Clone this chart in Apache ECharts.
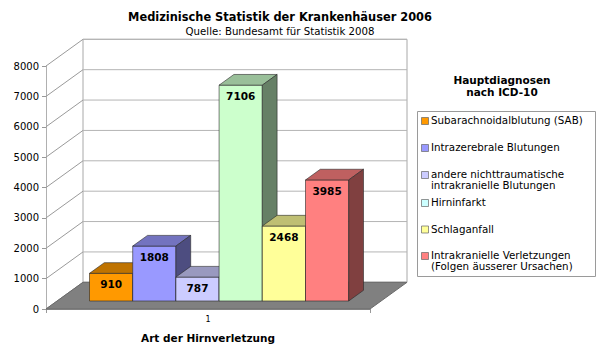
<!DOCTYPE html>
<html>
<head>
<meta charset="utf-8">
<script src="https://cdn.jsdelivr.net/npm/echarts@6/dist/echarts.min.js"></script>
<style>
  html, body { margin: 0; padding: 0; background: #fff; }
  #chart { width: 600px; height: 348px; }
</style>
</head>
<body>
<div id="chart"></div>
<script>
// Hospital statistics 2006: main diagnoses (ICD-10) for brain injuries
const categories = ['1'];
const diagnoses = [
  'Subarachnoidalblutung (SAB)',
  'Intrazerebrale Blutungen',
  'andere nichttraumatische\nintrakranielle Blutungen',
  'Hirninfarkt',
  'Schlaganfall',
  'Intrakranielle Verletzungen\n(Folgen äusserer Ursachen)'
];
const cases = [910, 1808, 787, 7106, 2468, 3985];
const barColors = ['#FF9900', '#9999FF', '#CCCCFF', '#CCFFCC', '#FFFF99', '#FF8080'];
const legendColors = ['#FF9900', '#9999FF', '#CCCCFF', '#CCFFFF', '#FFFF99', '#FF8080'];
const yTicks = [0, 1000, 2000, 3000, 4000, 5000, 6000, 7000, 8000];

const FONT = 'DejaVu Sans';
// oblique depth vector of the 3D box and the slab occupied by the bars
const DEPTH = [37, -26.7];
const BAR_FRONT = 0.3;
const BAR_DEPTH = 0.4;

function shade(hex, k) {
  const n = parseInt(hex.slice(1), 16);
  const r = Math.round(((n >> 16) & 255) * k);
  const g = Math.round(((n >> 8) & 255) * k);
  const b = Math.round((n & 255) * k);
  return 'rgb(' + r + ',' + g + ',' + b + ')';
}

// back wall, side wall, grid lines and floor
function renderFrame(params, api) {
  const base = api.coord([0, 0]);
  const band = api.size([1, 0])[0];
  const L = base[0] - band / 2;
  const R = base[0] + band / 2;
  const dx = DEPTH[0], dy = DEPTH[1];
  const yTop = api.coord([0, yTicks[yTicks.length - 1]])[1];
  const y0 = base[1];
  const children = [];
  children.push({
    type: 'polygon',
    shape: { points: [[L + dx, y0 + dy], [R + dx, y0 + dy], [R + dx, yTop + dy], [L + dx, yTop + dy]] },
    style: { fill: '#ffffff', stroke: '#a8a8a8', lineWidth: 1 }
  });
  yTicks.forEach(function (v) {
    const y = api.coord([0, v])[1];
    children.push({
      type: 'line',
      shape: { x1: L + dx, y1: y + dy, x2: R + dx, y2: y + dy },
      style: { stroke: '#b4b4b4', lineWidth: 1 }
    });
    children.push({
      type: 'line',
      shape: { x1: L, y1: y, x2: L + dx, y2: y + dy },
      style: { stroke: '#9a9a9a', lineWidth: 1 }
    });
  });
  children.push({
    type: 'polygon',
    shape: { points: [[L, y0], [R, y0], [R + dx, y0 + dy], [L + dx, y0 + dy]] },
    style: { fill: '#808080', stroke: '#6a6a6a', lineWidth: 1 }
  });
  return { type: 'group', children: children };
}

// one 3D bar per diagnosis, with its value on the front face
function renderBar(params, api) {
  const i = params.seriesIndex - 1;
  const n = cases.length;
  const base = api.coord([0, 0]);
  const topPt = api.coord([0, api.value(1)]);
  const band = api.size([1, 0])[0];
  const groupW = band * 0.8;
  const w = groupW / n;
  const fx = DEPTH[0] * BAR_FRONT, fy = DEPTH[1] * BAR_FRONT;
  const bx = DEPTH[0] * BAR_DEPTH, by = DEPTH[1] * BAR_DEPTH;
  const x0 = base[0] - groupW / 2 + i * w + fx;
  const x1 = x0 + w;
  const yb = base[1] + fy;
  const yt = topPt[1] + fy;
  const c = barColors[i];
  const edge = { stroke: 'rgba(40,40,40,0.75)', lineWidth: 0.8, lineJoin: 'round' };
  return {
    type: 'group',
    children: [
      { type: 'polygon', shape: { points: [[x0, yb], [x1, yb], [x1, yt], [x0, yt]] },
        style: Object.assign({ fill: c }, edge) },
      { type: 'polygon', shape: { points: [[x0, yt], [x1, yt], [x1 + bx, yt + by], [x0 + bx, yt + by]] },
        style: Object.assign({ fill: shade(c, 0.75) }, edge) },
      { type: 'polygon', shape: { points: [[x1, yb], [x1 + bx, yb + by], [x1 + bx, yt + by], [x1, yt]] },
        style: Object.assign({ fill: shade(c, 0.5) }, edge) },
      { type: 'text', x: (x0 + x1) / 2, y: yt + 11,
        style: { text: String(api.value(1)), fill: '#000', font: 'bold 10.5px "' + FONT + '"',
                 align: 'center', verticalAlign: 'middle' } }
    ]
  };
}

const series = [{
  type: 'custom', name: 'frame', silent: true, z: 1,
  renderItem: renderFrame, data: [[0, 0]]
}];
diagnoses.forEach(function (name, i) {
  series.push({
    type: 'custom', name: name, z: 2 + i, silent: true,
    renderItem: renderBar, data: [[0, cases[i]]]
  });
});

// legend box on the right
const legendLeft = 417, legendTop = 111, legendW = 178, legendH = 165;
const legendRowY = [121, 148, 175, 203, 229.5, 256];
const graphics = [];
graphics.push({
  type: 'text', x: 502, y: 86,
  style: { text: 'Hauptdiagnosen\nnach ICD-10', font: 'bold 10.5px "' + FONT + '"', fill: '#000',
           align: 'center', verticalAlign: 'middle', lineHeight: 12 }
});
graphics.push({
  type: 'rect', shape: { x: legendLeft + 0.5, y: legendTop + 0.5, width: legendW, height: legendH },
  style: { fill: '#fff', stroke: '#9a9a9a', lineWidth: 1 }
});
diagnoses.forEach(function (name, i) {
  const y = legendRowY[i];
  graphics.push({
    type: 'rect', shape: { x: 421.5, y: y - 3.5, width: 7, height: 7 },
    style: { fill: legendColors[i], stroke: '#666', lineWidth: 0.7 }
  });
  graphics.push({
    type: 'text', x: 431, y: y - 6.5,
    style: { text: name, font: '10.3px "' + FONT + '"', fill: '#000', lineHeight: 11,
             align: 'left', verticalAlign: 'top' }
  });
});

const chart = echarts.init(document.getElementById('chart'), null, { renderer: 'svg' });
chart.setOption({
  animation: false,
  backgroundColor: '#fff',
  title: {
    text: 'Medizinische Statistik der Krankenhäuser 2006',
    subtext: 'Quelle: Bundesamt für Statistik 2008',
    left: 280, textAlign: 'center', top: 11, itemGap: 4, padding: 0,
    textStyle: { fontFamily: FONT, fontSize: 11.4, fontWeight: 'bold', color: '#000' },
    subtextStyle: { fontFamily: FONT, fontSize: 10.2, color: '#000' }
  },
  grid: { left: 46, right: 230, top: 66, bottom: 35.5, containLabel: false },
  xAxis: {
    type: 'category', data: categories,
    name: 'Art der Hirnverletzung', nameLocation: 'middle', nameGap: 23,
    nameTextStyle: { fontFamily: FONT, fontSize: 10.5, fontWeight: 'bold', color: '#000' },
    axisLine: { lineStyle: { color: '#999' } },
    axisTick: { show: true, length: 4, lineStyle: { color: '#999' } },
    axisLabel: { fontFamily: FONT, fontSize: 8, color: '#000', margin: 6 },
    splitLine: { show: false }
  },
  yAxis: {
    type: 'value', min: 0, max: 8000, interval: 1000,
    axisLine: { show: true, lineStyle: { color: '#b0b0b0' } },
    axisTick: { show: true, length: 4, lineStyle: { color: '#999' } },
    axisLabel: { fontFamily: FONT, fontSize: 10, color: '#000', margin: 7,
                 formatter: function (v) { return String(v); } },
    splitLine: { show: false }
  },
  graphic: graphics,
  series: series
});
</script>
</body>
</html>
